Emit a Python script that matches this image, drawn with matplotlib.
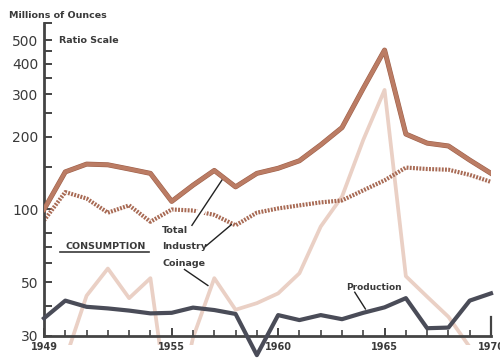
import numpy as np
import matplotlib.pyplot as plt
import matplotlib.patheffects as pe
from matplotlib.transforms import Bbox, TransformedBbox
from matplotlib.ticker import FixedLocator, NullFormatter

years = np.arange(1949, 1971)

# silver consumption and production, millions of ounces
total = [100, 143, 154, 153, 147, 141, 108, 126, 145, 124, 141, 148, 159,
         185, 218, 317, 456, 205, 188, 183, 160, 141]
industry = [90, 118, 111, 97, 104, 89, 100, 99, 95, 86, 97, 101, 104,
            107, 109, 120, 132, 149, 147, 146, 139, 130]
coinage = [np.nan, 24, 44, 57, 43, 52, 12, 29.5, 52, 38.5, 41, 45, 54.5,
           85, 113, 194, 312, 53, 43.6, 36, 27, np.nan]
production = [35.5, 42, 39.6, 39, 38.2, 37.2, 37.4, 39.3, 38.4, 37, 25, 36.6,
              34.9, 36.6, 35.2, 37.4, 39.4, 43, 32.3, 32.5, 42, 45]

y_major = [30, 50, 100, 200, 300, 400, 500]
y_minor = [40, 60, 70, 80, 150, 250, 350, 450, 590]
x_major = [1949, 1955, 1960, 1965, 1970]

ink = '#3a3a3a'

fig = plt.figure(figsize=(5, 3.58), dpi=100)
ax = fig.add_axes([0.088, 0.0615, 0.894, 0.8743])
ax.set_yscale('log')
ax.set_xlim(1949, 1970)
ax.set_ylim(30, 590)

ax.plot(years, industry, color='#a86a54', lw=3.0, dashes=(0.45, 0.32),
        solid_capstyle='butt', dash_capstyle='butt', zorder=2)

# coinage is cut at the axis, with a little room below it
coin, = ax.plot(years, coinage, color='#ead0c5', lw=2.7, zorder=1)
clip = TransformedBbox(Bbox([[0, -0.03], [1, 1]]), ax.transAxes)
coin.set_clip_box(clip)

ax.plot(years, total, color='#bb7c64', lw=2.8, zorder=4,
        path_effects=[pe.Stroke(linewidth=3.6, foreground='#9e604a'), pe.Normal()])
ax.plot(years, production, color='#4a4c58', lw=3.0, zorder=5, clip_on=False)

# axes
for s in ['top', 'right']:
    ax.spines[s].set_visible(False)
for s in ['left', 'bottom']:
    ax.spines[s].set_color('#444444')
    ax.spines[s].set_linewidth(2.0)

ax.yaxis.set_major_locator(FixedLocator(y_major))
ax.yaxis.set_minor_locator(FixedLocator(y_minor))
ax.yaxis.set_minor_formatter(NullFormatter())
ax.set_yticklabels([str(v) for v in y_major])
ax.tick_params(axis='y', which='both', direction='in', length=6, width=1.4,
               color='#444444', labelsize=10, labelcolor=ink, pad=4)

ax.xaxis.set_major_locator(FixedLocator(x_major))
ax.xaxis.set_minor_locator(FixedLocator(years))
ax.set_xticklabels([str(v) for v in x_major], fontweight='bold', fontsize=7)
ax.tick_params(axis='x', which='major', direction='in', length=6, width=1.4,
               color='#444444', labelcolor=ink, pad=4)
ax.tick_params(axis='x', which='minor', direction='in', length=4, width=1.2,
               color='#444444')
ax.plot([1970, 1970], [30, 36], color='#444444', lw=1.6, clip_on=False, zorder=6)

# labels
fig.text(0.018, 0.957, 'Millions of Ounces', fontsize=6.8, fontweight='bold',
         color=ink, va='center')
ax.text(1949.7, 500, 'Ratio Scale', fontsize=6.8, fontweight='bold',
        color=ink, va='center')
ax.text(1950.0, 70, 'CONSUMPTION', fontsize=6.8, fontweight='bold', color=ink,
        va='center')
ax.plot([1949.75, 1953.95], [66.5, 66.5], color=ink, lw=1.2)

ax.text(1954.55, 82, 'Total', fontsize=6.8, fontweight='bold', color=ink,
        va='center')
ax.text(1954.55, 70, 'Industry', fontsize=6.8, fontweight='bold', color=ink,
        va='center')
ax.text(1954.55, 60, 'Coinage', fontsize=6.8, fontweight='bold', color=ink,
        va='center')
ax.text(1963.2, 47.5, 'Production', fontsize=6.5, fontweight='bold', color=ink,
        va='center')

gap = [pe.Stroke(linewidth=5.5, foreground='white'), pe.Normal()]
ax.plot([1955.95, 1957.45], [86, 136], color='#222222', lw=1.0, zorder=3,
        path_effects=gap)
ax.plot([1956.6, 1957.8], [70.5, 86.5], color='#222222', lw=1.0, zorder=3)
ax.plot([1955.6, 1956.7], [56.5, 48.5], color='#222222', lw=1.0, zorder=3)
ax.plot([1963.6, 1964.1], [45.5, 38.8], color='#222222', lw=1.0, zorder=6)

fig.savefig('out.png', dpi=100, facecolor='white')
